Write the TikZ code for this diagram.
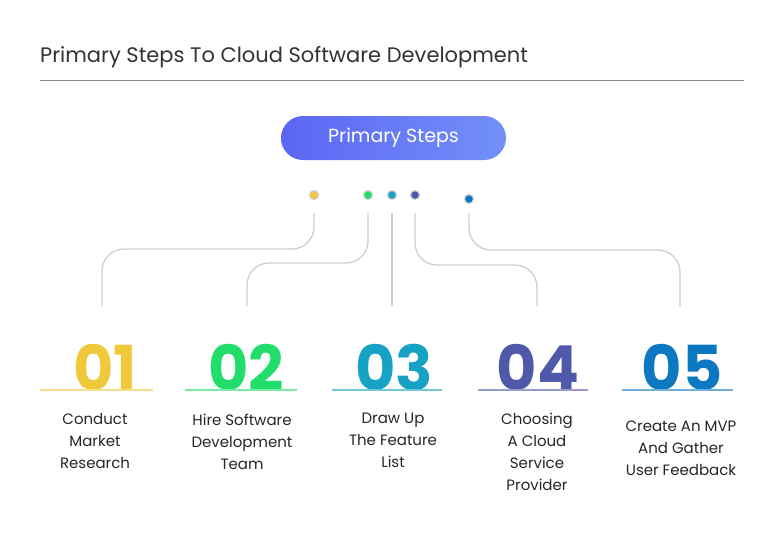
\documentclass[tikz,border=0pt]{standalone}
\usepackage{fontspec}
\setmainfont{Poppins}
\usetikzlibrary{shapes.misc}
\definecolor{cA}{HTML}{F0C93A}
\definecolor{cB}{HTML}{22DD6A}
\definecolor{cC}{HTML}{16A2C2}
\definecolor{cD}{HTML}{5058AA}
\definecolor{cE}{HTML}{0C78C2}
\definecolor{ln}{HTML}{CFCFCF}
\definecolor{bL}{HTML}{5B66F4}
\definecolor{bR}{HTML}{7390F8}
\begin{document}
\begin{tikzpicture}[x=1pt,y=-1pt,
  conn/.style={draw=ln,line width=1.3pt,rounded corners=22pt},
  dotn/.style={circle,draw=ln,line width=1.2pt,minimum size=9pt,inner sep=0pt},
  numn/.style={font=\fontsize{62}{62}\selectfont\bfseries,anchor=base,inner sep=0pt},
  lab/.style={font=\fontsize{15}{22}\selectfont,align=center,anchor=north,text=black!85},
  ul/.style={line width=1.3pt}]
\useasboundingbox[fill=white] (0,0) rectangle (784,539);
\node[anchor=base west,font=\fontsize{21}{21}\selectfont,text=black!80,inner sep=0pt] (title) at (40,62) {Primary Steps To Cloud Software Development};
\draw[black!45,line width=0.8pt] (40,80) -- (744,80);
\shade[left color=bL,right color=bR,rounded corners=22pt] (281,116) rectangle (506,160);
\node[text=white,font=\fontsize{19}{19}\selectfont] (ps) at (393.5,138) {Primary Steps};
\node[dotn,fill=cA] (d1) at (314,195) {};
\node[dotn,fill=cB] (d2) at (368,195) {};
\node[dotn,fill=cC] (d3) at (392,195) {};
\node[dotn,fill=cD] (d4) at (415,195) {};
\node[dotn,fill=cE] (d5) at (469,199) {};
\coordinate (e1) at (102,306);\coordinate (e2) at (247,306);\coordinate (e3) at (392,306);
\coordinate (e4) at (537,306);\coordinate (e5) at (680,306);
\draw[conn] (314,213) -- (314,249) -- (102,249) -- (e1);
\draw[conn] (368,213) -- (368,263) -- (247,263) -- (e2);
\draw[conn] (392,213) -- (e3);
\draw[conn] (415,213) -- (415,265) -- (537,265) -- (e4);
\draw[conn] (469,213) -- (469,250) -- (680,250) -- (e5);
\node[numn,text=cA] (n1) at (105,390) {01};
\node[numn,text=cB] (n2) at (246,390) {02};
\node[numn,text=cC] (n3) at (394,390) {03};
\node[numn,text=cD] (n4) at (538,390) {04};
\node[numn,text=cE] (n5) at (682,390) {05};
\draw[ul,cA!60] (40,390) -- (153,390);
\draw[ul,cB!60] (185,390) -- (297,390);
\draw[ul,cC!60] (332,390) -- (442,390);
\draw[ul,cD!60] (478,390) -- (588,390);
\draw[ul,cE!60] (622,390) -- (733,390);
\node[lab] (l1) at (95,410) {Conduct\\Market\\Research};
\node[lab] (l2) at (242,410) {Hire Software\\Development\\Team};
\node[lab] (l3) at (393,410) {Draw Up\\The Feature\\List};
\node[lab] (l4) at (537,410) {Choosing\\A Cloud\\Service\\Provider};
\node[lab] (l5) at (681,417) {Create An MVP\\And Gather\\User Feedback};
\end{tikzpicture}
\end{document}
